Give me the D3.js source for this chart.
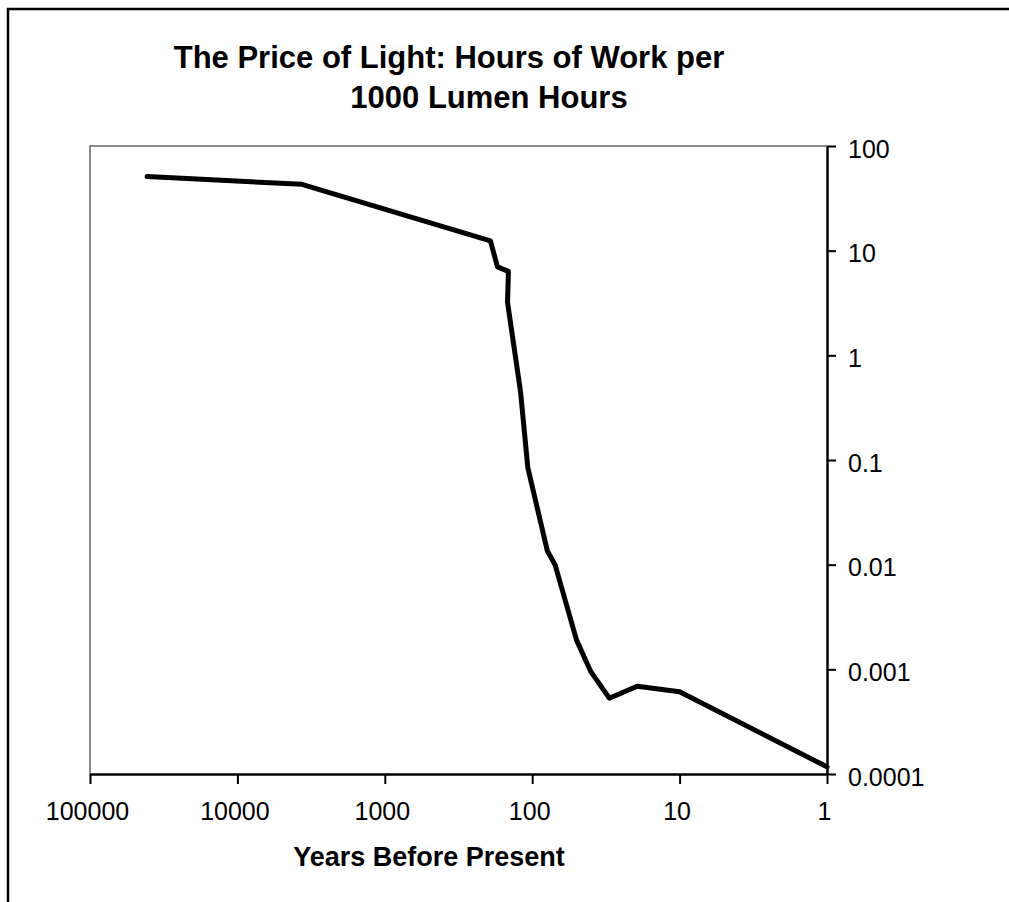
<!DOCTYPE html>
<html>
<head>
<meta charset="utf-8">
<script src="https://cdn.jsdelivr.net/npm/d3@7"></script>
<style>
  html, body { margin: 0; padding: 0; background: #fff; }
  svg { display: block; }
  text { font-family: "Liberation Sans", Arial, sans-serif; fill: #000; }
</style>
</head>
<body>
<svg id="chart" width="1009" height="902"></svg>
<script>
// years before present and hours of work per 1000 lumen hours
const years = [41000, 3650, 192, 172, 145, 147, 120, 107, 79, 70, 50, 40, 30, 19.4, 10, 1];
const hours = [51, 43, 12.4, 7.0, 6.35, 3.2, 0.45, 0.084, 0.0136, 0.0100, 0.0019, 0.00095, 0.00053, 0.00069, 0.00061, 0.000117];

const xTicks = [100000, 10000, 1000, 100, 10, 1];
const yTicks = [100, 10, 1, 0.1, 0.01, 0.001, 0.0001];

const titleLines = ["The Price of Light: Hours of Work per", "1000 Lumen Hours"];
const xTitle = "Years Before Present";

const data = years.map((y, i) => ({ year: y, value: hours[i] }));

const svg = d3.select("#chart");
const plot = { left: 90, right: 827, top: 146, bottom: 774 };

// outer frame (left and top edges visible)
svg.append("path")
  .attr("d", "M8,902 L8,9 L1009,9")
  .attr("fill", "none")
  .attr("stroke", "#000")
  .attr("stroke-width", 2.5);

const x = d3.scaleLog()
  .domain([100000, 1])
  .range([plot.left, plot.right]);

const y = d3.scaleLog()
  .domain([0.0001, 100])
  .range([plot.bottom, plot.top]);

// thin top and left edges of the plot area
svg.append("path")
  .attr("d", `M${plot.left},${plot.bottom} L${plot.left},${plot.top} L${plot.right},${plot.top}`)
  .attr("fill", "none")
  .attr("stroke", "#666")
  .attr("stroke-width", 1.5);

// X axis
const xAxis = svg.append("g")
  .attr("transform", `translate(0,${plot.bottom})`)
  .call(d3.axisBottom(x).tickValues(xTicks).tickFormat(d => String(d))
    .tickSize(10).tickSizeOuter(0).tickPadding(18));
xAxis.select(".domain").attr("stroke-width", 2.5);
xAxis.selectAll(".tick line").attr("stroke-width", 2);
xAxis.selectAll("text")
  .style("font-size", "25px")
  .attr("dx", "-3px");

// Y axis on the right
const yAxis = svg.append("g")
  .attr("transform", `translate(${plot.right},0)`)
  .call(d3.axisRight(y).tickValues(yTicks).tickFormat(d => String(d))
    .tickSize(9).tickSizeOuter(0).tickPadding(12));
yAxis.select(".domain").attr("stroke-width", 2.5);
yAxis.selectAll(".tick line").attr("stroke-width", 2);
yAxis.selectAll("text")
  .style("font-size", "25px")
  .attr("dy", "0.45em");

// the series
const line = d3.line()
  .x(d => x(d.year))
  .y(d => y(d.value));

svg.append("path")
  .datum(data)
  .attr("d", line)
  .attr("fill", "none")
  .attr("stroke", "#000")
  .attr("stroke-width", 5)
  .attr("stroke-linejoin", "round")
  .attr("stroke-linecap", "round");

// titles
svg.append("text")
  .attr("x", 449).attr("y", 68)
  .attr("text-anchor", "middle")
  .style("font-size", "31px").style("font-weight", "bold")
  .text(titleLines[0]);
svg.append("text")
  .attr("x", 489).attr("y", 108)
  .attr("text-anchor", "middle")
  .style("font-size", "31px").style("font-weight", "bold")
  .text(titleLines[1]);

svg.append("text")
  .attr("x", 429).attr("y", 866)
  .attr("text-anchor", "middle")
  .style("font-size", "27px").style("font-weight", "bold")
  .text(xTitle);
</script>
</body>
</html>
